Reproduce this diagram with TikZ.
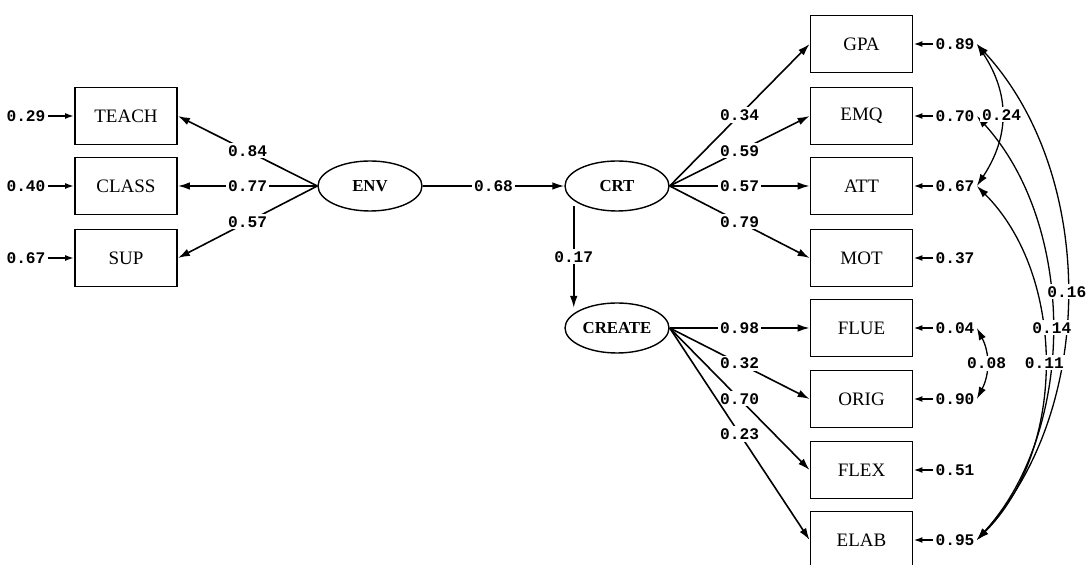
\documentclass[tikz,border=0pt]{standalone}
\usepackage{fontspec}
\setmainfont{Liberation Serif}
\newfontfamily\coeffont{Liberation Mono}
\usetikzlibrary{shapes.geometric, arrows.meta, positioning}

\tikzset{
  indic/.style={draw, line width=0.9pt, minimum width=51pt, minimum height=28.5pt,
    inner sep=0pt, font=\fontsize{9.5}{11}\selectfont},
  latent/.style={draw, ellipse, line width=0.7pt, minimum width=52pt, minimum height=25pt,
    inner sep=0pt, font=\fontsize{8.4}{10}\selectfont\bfseries},
  coef/.style={fill=white, inner sep=1pt, font=\coeffont\bfseries\fontsize{8.1}{9}\selectfont},
  errv/.style={inner sep=1pt, font=\coeffont\bfseries\fontsize{8.1}{9}\selectfont},
  load/.style={->, line width=0.8pt},
  errarr/.style={-{Latex[length=4.5pt,width=3pt]}, line width=1pt},
  cov/.style={<->, line width=0.65pt}
}

\begin{document}
\begin{tikzpicture}[x=0.5pt, y=-0.5pt, >={Latex[length=6pt,width=3.8pt]}]

  \useasboundingbox (0,0) rectangle (1086,565);

  % --- POSICOES ---
  \def\xl{126}
  \def\xr{861.5}

  % --- LATENTES ---
  \node[latent] (ENV) at (370,186) {ENV};
  \node[latent] (CRT) at (617,186) {CRT};
  \node[latent] (CREATE) at (617,328) {CREATE};

  % --- INDICADORES DE ENV (esquerda) ---
  \foreach \n/\v/\y in {TEACH/0.29/116, CLASS/0.40/186, SUP/0.67/258} {
    \node[indic] (\n) at (\xl,\y) {\n};
    \node[errv] (e\n) at (26,\y) {\v};
    \draw[errarr] (e\n) -- (\n);
  }

  % --- INDICADORES DE CRT E CREATE (direita) ---
  \foreach \n/\v/\y in {GPA/0.89/44, EMQ/0.70/116, ATT/0.67/186, MOT/0.37/258,
                        FLUE/0.04/328, ORIG/0.90/399, FLEX/0.51/470, ELAB/0.95/540} {
    \node[indic] (\n) at (\xr,\y) {\n};
    \node[errv] (e\n) at (955,\y) {\v};
    \draw[errarr] (e\n) -- (\n);
  }

  % --- CARGAS ---
  \foreach \n/\v in {TEACH/0.84, CLASS/0.77, SUP/0.57}
    \draw[load] (ENV.west) -- node[coef] {\v} (\n.east);

  \foreach \n/\v in {GPA/0.34, EMQ/0.59, ATT/0.57, MOT/0.79}
    \draw[load] (CRT.east) -- node[coef] {\v} (\n.west);

  \foreach \n/\v in {FLUE/0.98, ORIG/0.32, FLEX/0.70, ELAB/0.23}
    \draw[load] (CREATE.east) -- node[coef] {\v} (\n.west);

  % --- CAMINHOS ESTRUTURAIS ---
  \draw[load] (ENV) -- node[coef] {0.68} (CRT);
  \draw[load] ([xshift=-3pt,yshift=-1pt]CRT.south west) -- node[coef] {0.17}
    ([xshift=-3pt,yshift=1pt]CREATE.north west);

  % --- ERROS CORRELACIONADOS ---
  \draw[cov] (eGPA.east) .. controls +(120,130) and +(120,-130) .. (eELAB.east)
    coordinate[midway] (c16);
  \draw[cov] (eEMQ.east) .. controls +(100,110) and +(100,-110) .. (eELAB.east)
    coordinate[midway] (c14);
  \draw[cov] (eATT.east) .. controls +(90,90) and +(90,-90) .. (eELAB.east)
    coordinate[midway] (c11);
  \draw[cov] (eGPA.east) .. controls +(33,50) and +(33,-50) .. (eATT.east)
    coordinate[midway] (c24);
  \draw[cov] (eFLUE.east) .. controls +(13,25) and +(13,-25) .. (eORIG.east)
    coordinate[midway] (c08);

  % rotulos por cima das curvas
  \foreach \c/\v in {c16/0.16, c14/0.14, c11/0.11, c24/0.24, c08/0.08}
    \node[coef] at (\c) {\v};

\end{tikzpicture}
\end{document}
